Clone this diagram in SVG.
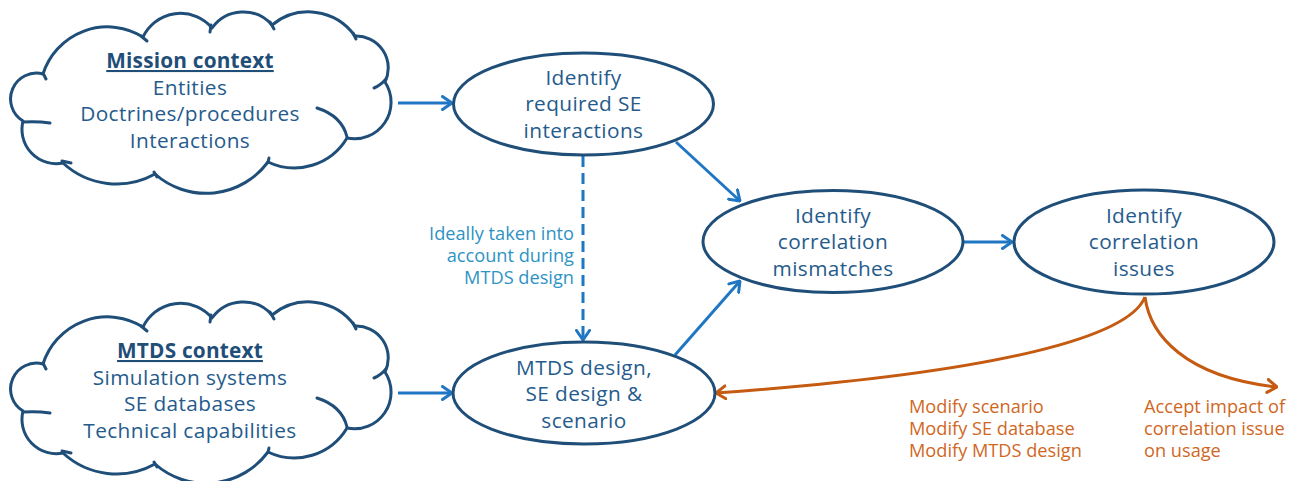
<svg xmlns="http://www.w3.org/2000/svg" width="1298" height="481" viewBox="0 0 1298 481">
  <defs>
    <style>
      .cloud { fill: #ffffff; stroke: #1f4e79; stroke-width: 3; stroke-linejoin: round; }
      .crease { fill: none; stroke: #1f4e79; stroke-width: 3; stroke-linecap: round; }
      .oval { fill: #ffffff; stroke: #1f4e79; stroke-width: 3; }
      .txt { font-family: "Open Sans", "Liberation Sans", sans-serif; font-size: 20.8px; letter-spacing: 0.4px; fill: #255b8c; text-anchor: middle; }
      .head { font-weight: bold; fill: #1f4e79; text-decoration: underline; letter-spacing: 0.2px; }
      .flow { fill: none; stroke: #1f77c4; stroke-width: 3; }
      .dash { stroke-dasharray: 11 6; }
      .alt { fill: none; stroke: #c55a11; stroke-width: 3; }
      .note { font-family: "Open Sans", "Liberation Sans", sans-serif; font-size: 18.2px; }
      .note-blue { fill: #2e93c4; text-anchor: end; }
      .note-orange { fill: #d0671f; }
    </style>
    <marker id="arrow-blue" viewBox="0 0 12 16" refX="11" refY="8" markerWidth="12" markerHeight="16" markerUnits="userSpaceOnUse" orient="auto">
      <path d="M1.5,1.5 L11,8 L1.5,14.5" fill="none" stroke="#1f77c4" stroke-width="3" stroke-linecap="round" stroke-linejoin="round"/>
    </marker>
    <marker id="arrow-orange" viewBox="0 0 12 16" refX="11" refY="8" markerWidth="12" markerHeight="16" markerUnits="userSpaceOnUse" orient="auto">
      <path d="M1.5,1.5 L11,8 L1.5,14.5" fill="none" stroke="#c55a11" stroke-width="3" stroke-linecap="round" stroke-linejoin="round"/>
    </marker>
    <!-- cloud outline with its inner crease strokes -->
    <g id="cloud-shape">
      <path class="cloud" d="M43,74 A67.6,67.6 0 0 1 143,37 A41.4,41.4 0 0 1 212,28 A38.3,38.3 0 0 1 272,25 A57.1,57.1 0 0 1 355,36 A32,32 0 0 1 385,82 A36.6,36.6 0 0 1 347,138 A61.3,61.3 0 0 1 268,162 A77,77 0 0 1 155,174 A79,79 0 0 1 63,163 A34.3,34.3 0 0 1 23,121 A25.8,25.8 0 0 1 43,74 Z"/>
      <path class="crease" d="M43,73 L46,79"/>
      <path class="crease" d="M141,36 L147,41"/>
      <path class="crease" d="M211,25 L210,32"/>
      <path class="crease" d="M270,22 L274,29"/>
      <path class="crease" d="M353,33 L356,39"/>
      <path class="crease" d="M386,79 Q381,85 374,88"/>
      <path class="crease" d="M317,108 Q342,116 347,137"/>
      <path class="crease" d="M268,162 L269,158"/>
      <path class="crease" d="M154,172 L157,177"/>
      <path class="crease" d="M62,161 L71,163"/>
      <path class="crease" d="M23,122 Q37,121 50,123"/>
    </g>
  </defs>

  <!-- connectors -->
  <g id="connectors">
    <line class="flow" x1="398" y1="103" x2="452" y2="103" marker-end="url(#arrow-blue)"/>
    <line class="flow" x1="398" y1="393" x2="452" y2="393" marker-end="url(#arrow-blue)"/>
    <line class="flow" x1="676" y1="142" x2="740" y2="201" marker-end="url(#arrow-blue)"/>
    <line class="flow" x1="675" y1="355" x2="740" y2="281" marker-end="url(#arrow-blue)"/>
    <line class="flow" x1="963" y1="242" x2="1012" y2="242" marker-end="url(#arrow-blue)"/>
    <line class="flow dash" x1="583" y1="156" x2="583" y2="340" marker-end="url(#arrow-blue)"/>
    <path class="alt" d="M1145,297 C1130,335 1010,372 716,393" marker-end="url(#arrow-orange)"/>
    <path class="alt" d="M1145,297 C1150,335 1185,377 1277,387" marker-end="url(#arrow-orange)"/>
    <text class="note note-blue" x="574" y="240">Ideally taken into</text>
    <text class="note note-blue" x="574" y="262">account during</text>
    <text class="note note-blue" x="574" y="284">MTDS design</text>
    <text class="note note-orange" x="909" y="413">Modify scenario</text>
    <text class="note note-orange" x="909" y="435">Modify SE database</text>
    <text class="note note-orange" x="909" y="457">Modify MTDS design</text>
    <text class="note note-orange" x="1144" y="413">Accept impact of</text>
    <text class="note note-orange" x="1144" y="435">correlation issue</text>
    <text class="note note-orange" x="1144" y="457">on usage</text>
  </g>

  <g id="mission-context">
    <use href="#cloud-shape"/>
    <text class="txt head" x="190" y="68">Mission context</text>
    <text class="txt" x="190" y="94.5">Entities</text>
    <text class="txt" x="190" y="121">Doctrines/procedures</text>
    <text class="txt" x="190" y="147.5">Interactions</text>
  </g>

  <g id="mtds-context">
    <use href="#cloud-shape" transform="translate(0,290)"/>
    <text class="txt head" x="190" y="358">MTDS context</text>
    <text class="txt" x="190" y="384.5">Simulation systems</text>
    <text class="txt" x="190" y="411">SE databases</text>
    <text class="txt" x="190" y="437.5">Technical capabilities</text>
  </g>

  <g id="identify-interactions">
    <ellipse class="oval" cx="583.5" cy="104" rx="130" ry="51"/>
    <text class="txt" x="583.5" y="84.5">Identify</text>
    <text class="txt" x="583.5" y="111">required SE</text>
    <text class="txt" x="583.5" y="137.5">interactions</text>
  </g>

  <g id="mtds-design">
    <ellipse class="oval" cx="584" cy="393" rx="131" ry="51"/>
    <text class="txt" x="584" y="374.5">MTDS design,</text>
    <text class="txt" x="584" y="401">SE design &amp;</text>
    <text class="txt" x="584" y="427.5">scenario</text>
  </g>

  <g id="identify-mismatches">
    <ellipse class="oval" cx="833" cy="241.5" rx="130" ry="51"/>
    <text class="txt" x="833" y="222.5">Identify</text>
    <text class="txt" x="833" y="249">correlation</text>
    <text class="txt" x="833" y="275.5">mismatches</text>
  </g>

  <g id="identify-issues">
    <ellipse class="oval" cx="1144" cy="242" rx="130" ry="52"/>
    <text class="txt" x="1144" y="222.5">Identify</text>
    <text class="txt" x="1144" y="249">correlation</text>
    <text class="txt" x="1144" y="275.5">issues</text>
  </g>
</svg>
